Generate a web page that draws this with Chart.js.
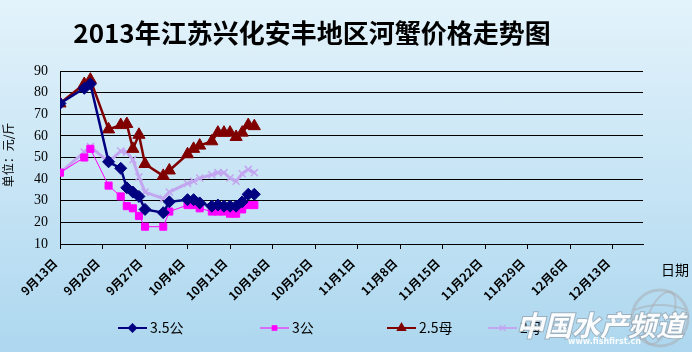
<!DOCTYPE html>
<html><head><meta charset="utf-8">
<script src="https://cdn.jsdelivr.net/npm/chart.js@4"></script>
<style>
html,body{margin:0;padding:0;}
body{width:692px;height:352px;background:linear-gradient(#e3f3fb,#add7ef);overflow:hidden;}
canvas{display:block;}
</style></head><body>
<canvas id="c" width="692" height="352"></canvas>
<script>
// ---- data ----
const dates = ["9/13","9/17","9/18","9/21","9/23","9/24","9/25","9/26","9/27","9/30","10/1","10/4","10/5","10/6","10/8","10/9","10/10","10/11","10/12","10/13","10/14","10/15"];
const male35   = [75,82,84,48,45,36,34,32,26,24.5,29.5,30.5,30.5,29,27.5,28,27.5,27.5,27.5,29.5,33,33];
const male3    = [43,50,54,37,32,27.5,26.5,23,18,18,25,28,28,26.5,25,25,25,24,24,26,28,28];
const female25 = [75,84,86,63,65,65.5,54,60.5,47,41.5,44,51.5,54,55.5,57.5,61.5,61.5,61.5,59.5,61.5,65,64.5];
const female2  = [43,52.5,55,48,53,52.5,49,41,34,31,34,38,39,40.5,42,43,43,40.5,39,42.5,44.5,43];
const seriesNames = ["3.5公","3公","2.5母","2母"];
const yTicks = [10,20,30,40,50,60,70,80,90];
const xStart = "9/13", xEnd = "12/18";
const titleText = "2013年江苏兴化安丰地区河蟹价格走势图";
const yTitle = "单位：元/斤";
const xTitle = "日期";

// ---- helpers ----
const base = new Date(2013, 8, 13);
function dayOf(s){const [m,d]=s.split('/').map(Number);return Math.round((new Date(2013,m-1,d)-base)/86400000);}
function fmt(v){const d=new Date(2013,8,13+v);return (d.getMonth()+1)+"月"+d.getDate()+"日";}
function pts(arr){return dates.map((s,i)=>({x:dayOf(s),y:arr[i]}));}

const colors = ["#000080","#FF00FF","#800000","#C3A6F0"];
const styles = [
  {pointStyle:'rectRot',radius:6,lw:2.5},
  {pointStyle:'rect',radius:5,lw:1},
  {pointStyle:'triangle',radius:7,lw:2.5},
  {pointStyle:'crossRot',radius:5,lw:3}
];
const values = [male35,male3,female25,female2];

const datasets = values.map((v,i)=>({
  label:seriesNames[i], data:pts(v),
  borderColor:colors[i], backgroundColor:colors[i],
  borderWidth:styles[i].lw, pointStyle:styles[i].pointStyle,
  pointRadius:styles[i].radius, pointBorderWidth:i===3?1.5:1,
  pointBackgroundColor:colors[i], pointBorderColor:colors[i],
  tension:0, order:i===3?10:i
}));

function marker(ctx,style,x,y,r,color){
  ctx.save();ctx.fillStyle=color;ctx.strokeStyle=color;ctx.lineWidth=1.5;ctx.beginPath();
  if(style==='rectRot'){ctx.moveTo(x-r,y);ctx.lineTo(x,y-r);ctx.lineTo(x+r,y);ctx.lineTo(x,y+r);ctx.closePath();ctx.fill();}
  else if(style==='rect'){const s=r*0.707;ctx.rect(x-s,y-s,2*s,2*s);ctx.fill();}
  else if(style==='triangle'){ctx.moveTo(x,y-r);ctx.lineTo(x+r*0.866,y+r*0.5);ctx.lineTo(x-r*0.866,y+r*0.5);ctx.closePath();ctx.fill();}
  else {const s=r*0.707;ctx.moveTo(x-s,y-s);ctx.lineTo(x+s,y+s);ctx.moveTo(x+s,y-s);ctx.lineTo(x-s,y+s);ctx.stroke();}
  ctx.restore();
}

const decor = {
  id:'decor',
  afterDraw(chart){
    const ctx=chart.ctx;
    ctx.save();
    // title
    ctx.fillStyle='#000';ctx.textAlign='center';ctx.textBaseline='middle';
    ctx.font='bold 26px "Noto Sans CJK SC"';
    ctx.fillText(titleText,312,33);
    // y title
    ctx.save();ctx.translate(8,155);ctx.rotate(-Math.PI/2);
    ctx.font='12px "Noto Sans CJK SC"';ctx.fillText(yTitle,0,0);ctx.restore();
    // x title
    ctx.font='14px "Noto Sans CJK SC"';ctx.textAlign='left';
    ctx.fillText(xTitle,661,270);
    // legend
    const lx=[118,260,387,488];
    const ly=328;
    ctx.font='14px "Noto Sans CJK SC"';ctx.textAlign='left';ctx.textBaseline='middle';
    for(let i=0;i<4;i++){
      ctx.strokeStyle=colors[i];ctx.lineWidth=Math.min(styles[i].lw,2);
      ctx.beginPath();ctx.moveTo(lx[i],ly);ctx.lineTo(lx[i]+29,ly);ctx.stroke();
      marker(ctx,styles[i].pointStyle,lx[i]+14.5,ly,styles[i].radius-1,colors[i]);
      ctx.fillStyle='#000';ctx.fillText(seriesNames[i],lx[i]+32,ly);
    }
    // watermark (globe + text)
    ctx.strokeStyle='rgba(170,175,180,0.55)';ctx.lineWidth=3;
    ctx.beginPath();ctx.arc(660,318,28,0,Math.PI*2);ctx.stroke();
    ctx.lineWidth=2;
    ctx.beginPath();ctx.ellipse(660,318,12,28,0.4,0,Math.PI*2);ctx.stroke();
    ctx.beginPath();ctx.moveTo(634,310);ctx.quadraticCurveTo(660,300,686,310);ctx.stroke();
    ctx.font='italic bold 28px "Noto Sans CJK SC"';ctx.textAlign='left';
    ctx.lineWidth=2;ctx.strokeStyle='rgba(140,150,160,0.6)';
    ctx.strokeText('中国水产频道',516,325);
    ctx.fillStyle='rgba(255,255,255,0.95)';ctx.fillText('中国水产频道',516,325);
    ctx.font='bold 8px "DejaVu Sans"';ctx.fillStyle='rgba(255,255,255,0.9)';
    ctx.fillText('www.fishfirst.cn',568,342);
    ctx.restore();
  }
};

new Chart(document.getElementById('c'),{
  type:'line',
  data:{datasets},
  options:{
    responsive:false,animation:false,
    layout:{padding:{top:71,right:49,bottom:0,left:0}},
    plugins:{legend:{display:false},title:{display:false},tooltip:{enabled:false}},
    scales:{
      x:{type:'linear',min:dayOf(xStart),max:dayOf(xEnd),
        afterFit(s){s.height=108;},
        ticks:{stepSize:7,includeBounds:false,autoSkip:false,maxRotation:45,minRotation:45,
          color:'#000',font:{family:'Noto Sans CJK SC',size:12,weight:'bold'},padding:7,labelOffset:-5,
          callback:v=>fmt(v)},
        grid:{drawOnChartArea:false,drawTicks:true,tickLength:5,color:'#000'},
        border:{color:'#000',width:1}},
      y:{min:yTicks[0],max:yTicks[yTicks.length-1],
        afterFit(s){s.width=60;},
        afterBuildTicks(s){s.ticks=yTicks.map(v=>({value:v}));},
        ticks:{color:'#000',font:{family:'Liberation Serif',size:14},padding:12},
        grid:{color:'#000',drawTicks:false,lineWidth:1},
        border:{color:'#000',width:1}}
    }
  },
  plugins:[decor]
});
</script>
</body></html>
